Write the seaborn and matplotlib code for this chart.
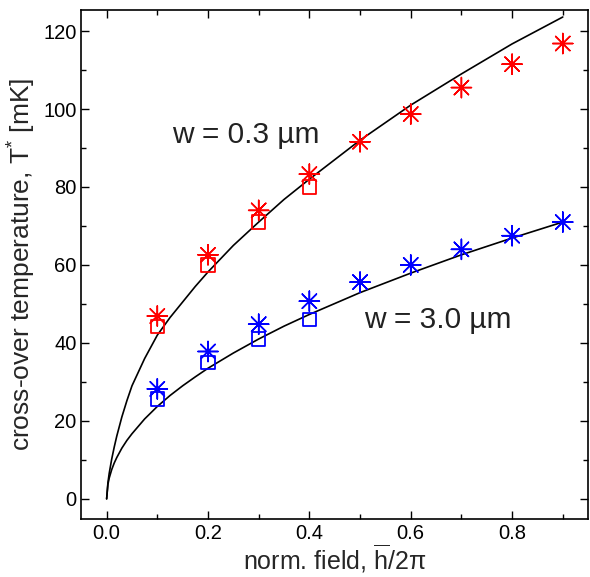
import numpy as np
import pandas as pd
import matplotlib
matplotlib.use("Agg")
import matplotlib.pyplot as plt
import seaborn as sns

# Measured cross-over temperatures (mK) versus normalised field
field = [0.1, 0.2, 0.3, 0.4, 0.5, 0.6, 0.7, 0.8, 0.9]
star_03 = [46.9, 62.6, 74.0, 83.3, 91.6, 98.7, 105.5, 111.5, 116.8]
star_30 = [28.2, 37.8, 44.8, 50.7, 55.6, 60.0, 64.0, 67.5, 71.0]

field_sq = [0.1, 0.2, 0.3, 0.4]
square_03 = [44.2, 60.0, 71.0, 80.0]
square_30 = [25.6, 35.0, 41.0, 46.1]

# Theory curves
curve_x = [0.0, 0.0025, 0.005, 0.01, 0.015, 0.02, 0.03, 0.04, 0.05, 0.075,
           0.1, 0.125, 0.15, 0.175, 0.2, 0.25, 0.3, 0.35, 0.4, 0.5, 0.6,
           0.7, 0.8, 0.9]
curve_03 = [0.0, 4.1, 6.5, 10.2, 13.3, 16.1, 21.0, 25.2, 29.0, 36.0,
            42.0, 46.5, 50.5, 54.5, 58.2, 65.0, 71.0, 76.8, 82.0, 92.0,
            101.0, 109.0, 116.7, 123.6]
curve_30 = [0.0, 3.7, 5.3, 7.5, 9.2, 10.6, 13.0, 15.0, 16.7, 20.5,
            23.7, 26.5, 29.0, 31.3, 33.5, 37.4, 41.0, 44.3, 47.3, 52.9,
            57.9, 62.6, 66.9, 71.0]

x_ticks = [0.0, 0.2, 0.4, 0.6, 0.8]
y_ticks = [0, 20, 40, 60, 80, 100, 120]

sns.set_style("ticks")
plt.rcParams["font.family"] = ["Liberation Sans", "DejaVu Sans"]
plt.rcParams["mathtext.fontset"] = "custom"
plt.rcParams["mathtext.rm"] = "Liberation Sans"
plt.rcParams["mathtext.it"] = "Liberation Sans:italic"

fig = plt.figure(figsize=(5.90, 5.77), dpi=100)
ax = fig.add_axes([0.1378, 0.101, 0.859, 0.881])

curves = pd.DataFrame({
    "x": curve_x * 2,
    "T": curve_03 + curve_30,
    "w": ["0.3"] * len(curve_x) + ["3.0"] * len(curve_x),
})
sns.lineplot(data=curves, x="x", y="T", units="w", estimator=None,
             color="black", lw=1.2, ax=ax, legend=False, sort=False)

stars = pd.DataFrame({
    "x": field * 2,
    "T": star_03 + star_30,
    "w": ["0.3"] * len(field) + ["3.0"] * len(field),
})
squares = pd.DataFrame({
    "x": field_sq * 2,
    "T": square_03 + square_30,
    "w": ["0.3"] * len(field_sq) + ["3.0"] * len(field_sq),
})
pal = {"0.3": "#ff0000", "3.0": "#0000ff"}

# open squares: draw with hue, then move the colour to the edges
sns.scatterplot(data=squares, x="x", y="T", hue="w", palette=pal,
                marker="s", s=90, linewidth=1.3,
                ax=ax, legend=False, zorder=3)
sq = ax.collections[-1]
sq.set_edgecolors(sq.get_facecolors())
sq.set_facecolor("none")

sns.scatterplot(data=stars, x="x", y="T", hue="w", palette=pal,
                marker=(8, 2, 0), s=210, linewidth=1.1,
                ax=ax, legend=False, zorder=4)
sns.scatterplot(data=stars, x="x", y="T", hue="w", palette=pal,
                marker="o", s=10, linewidth=0,
                ax=ax, legend=False, zorder=5)

ax.set_xlim(-0.05, 0.95)
ax.set_ylim(-5.1, 125.3)
ax.set_xticks(x_ticks)
ax.set_xticklabels([f"{v:.1f}" for v in x_ticks])
ax.set_yticks(y_ticks)
ax.set_yticklabels([str(v) for v in y_ticks])
ax.set_xticks(np.arange(0.0, 0.95, 0.1), minor=True)
ax.set_yticks(np.arange(0, 125, 10), minor=True)

ax.tick_params(which="both", direction="in", top=True, right=True,
               width=1.0, labelsize=14.5, colors="black")
ax.tick_params(which="major", length=6)
ax.tick_params(which="minor", length=3.5)
for sp in ax.spines.values():
    sp.set_linewidth(1.2)
    sp.set_color("black")

ax.set_xlabel("norm. field, " + r"$\overline{\mathrm{h}}$" + "/2π",
              fontsize=18, labelpad=0)
ax.set_ylabel(r"cross-over temperature, T$^{*}$ [mK]", fontsize=19,
              labelpad=4)

ax.text(0.129, 93.3, "w = 0.3 µm", fontsize=21.5, color="#222222",
        ha="left", va="center")
ax.text(0.507, 45.9, "w = 3.0 µm", fontsize=21.5, color="#222222",
        ha="left", va="center")

fig.savefig("out.png", dpi=100)
